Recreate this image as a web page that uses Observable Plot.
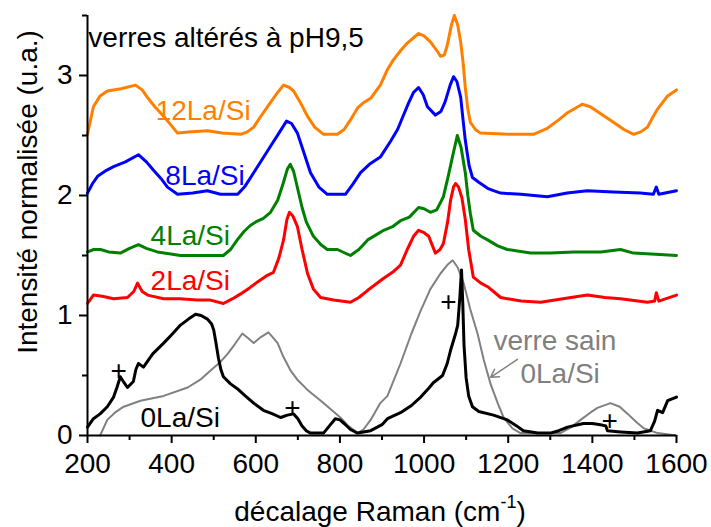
<!DOCTYPE html>
<html>
<head>
<meta charset="utf-8">
<script src="https://cdn.jsdelivr.net/npm/d3@7"></script>
<script src="https://cdn.jsdelivr.net/npm/@observablehq/plot@0.6"></script>
<style>
  html, body { margin: 0; padding: 0; background: #fff; }
  #chart svg { display: block; }
</style>
</head>
<body>
<div id="chart"></div>
<script>
// Raman spectra: [Raman shift (cm-1), normalised intensity]
const la12 = [[200,2.51],[214,2.74],[230,2.83],[247,2.87],[280,2.89],[314,2.92],[330,2.88],[342,2.82],[360,2.74],[381,2.66],[400,2.58],[414,2.52],[440,2.53],[485,2.54],[520,2.52],[564,2.51],[580,2.53],[595,2.57],[610,2.65],[628,2.74],[650,2.85],[666,2.92],[680,2.90],[690,2.87],[705,2.78],[723,2.66],[740,2.57],[761,2.51],[794,2.51],[810,2.55],[825,2.63],[842,2.73],[855,2.77],[873,2.81],[896,2.92],[913,3.05],[927,3.13],[945,3.21],[960,3.27],[987,3.35],[1000,3.33],[1015,3.28],[1030,3.21],[1039,3.16],[1048,3.17],[1055,3.25],[1065,3.42],[1072,3.50],[1080,3.42],[1087,3.28],[1093,3.10],[1098,2.90],[1104,2.72],[1110,2.61],[1122,2.55],[1134,2.52],[1200,2.51],[1260,2.51],[1293,2.56],[1320,2.63],[1341,2.69],[1376,2.76],[1395,2.74],[1412,2.70],[1450,2.61],[1475,2.55],[1498,2.51],[1515,2.53],[1531,2.57],[1545,2.66],[1555,2.72],[1579,2.83],[1600,2.88]];
const la8 = [[200,2.02],[212,2.10],[224,2.16],[245,2.21],[262,2.24],[290,2.28],[321,2.34],[340,2.28],[357,2.21],[375,2.14],[390,2.07],[414,2.01],[450,2.02],[485,2.04],[516,2.01],[557,2.01],[575,2.08],[595,2.19],[615,2.30],[635,2.41],[655,2.52],[673,2.62],[685,2.60],[699,2.52],[715,2.35],[730,2.19],[750,2.07],[770,2.01],[813,2.01],[830,2.09],[849,2.19],[870,2.26],[896,2.32],[920,2.45],[937,2.55],[950,2.66],[963,2.77],[975,2.86],[987,2.90],[998,2.84],[1008,2.74],[1027,2.67],[1040,2.70],[1050,2.78],[1062,2.92],[1070,2.99],[1078,2.95],[1087,2.82],[1093,2.62],[1098,2.46],[1107,2.25],[1115,2.15],[1130,2.11],[1151,2.06],[1165,2.04],[1182,2.02],[1230,2.01],[1293,1.99],[1340,2.02],[1388,2.04],[1450,2.03],[1514,2.02],[1545,2.01],[1552,2.07],[1558,2.01],[1600,2.04]];
const la4 = [[200,1.53],[215,1.55],[231,1.55],[250,1.53],[278,1.52],[300,1.56],[321,1.59],[340,1.56],[366,1.53],[421,1.50],[480,1.50],[523,1.50],[540,1.55],[556,1.63],[572,1.70],[587,1.75],[600,1.78],[618,1.81],[635,1.86],[652,1.96],[665,2.10],[675,2.22],[682,2.26],[690,2.20],[700,2.05],[710,1.90],[720,1.78],[737,1.66],[755,1.59],[770,1.55],[794,1.55],[825,1.50],[845,1.55],[866,1.63],[885,1.67],[904,1.71],[925,1.74],[944,1.79],[965,1.82],[987,1.90],[1000,1.89],[1015,1.86],[1030,1.88],[1046,1.99],[1058,2.17],[1068,2.33],[1079,2.50],[1088,2.40],[1098,2.19],[1104,2.00],[1110,1.85],[1117,1.71],[1135,1.66],[1151,1.63],[1175,1.58],[1198,1.55],[1253,1.52],[1300,1.52],[1355,1.53],[1420,1.53],[1467,1.55],[1498,1.52],[1550,1.51],[1600,1.50]];
const la2 = [[200,1.10],[214,1.17],[235,1.16],[262,1.14],[295,1.15],[310,1.20],[319,1.27],[330,1.20],[343,1.17],[381,1.14],[420,1.14],[461,1.13],[490,1.13],[523,1.10],[545,1.14],[564,1.18],[585,1.23],[604,1.28],[625,1.33],[642,1.36],[655,1.48],[666,1.63],[674,1.80],[680,1.86],[688,1.83],[699,1.74],[710,1.55],[723,1.35],[737,1.22],[754,1.15],[785,1.13],[825,1.11],[845,1.15],[866,1.21],[885,1.26],[904,1.31],[925,1.36],[944,1.42],[960,1.55],[975,1.66],[987,1.71],[1000,1.69],[1011,1.66],[1020,1.58],[1027,1.52],[1038,1.55],[1046,1.60],[1056,1.78],[1063,1.96],[1070,2.07],[1075,2.10],[1082,2.07],[1090,1.98],[1098,1.80],[1106,1.55],[1117,1.32],[1135,1.27],[1151,1.24],[1165,1.20],[1182,1.15],[1230,1.12],[1277,1.11],[1330,1.14],[1388,1.17],[1430,1.15],[1467,1.14],[1531,1.11],[1548,1.12],[1552,1.19],[1558,1.12],[1600,1.17]];
const la0 = [[200,0.07],[214,0.14],[230,0.18],[247,0.24],[262,0.32],[270,0.40],[278,0.49],[287,0.44],[295,0.40],[309,0.45],[315,0.55],[321,0.60],[333,0.57],[355,0.68],[381,0.77],[400,0.84],[421,0.92],[440,0.97],[457,1.01],[470,1.00],[485,0.97],[495,0.93],[500,0.88],[505,0.78],[511,0.65],[517,0.55],[523,0.49],[540,0.43],[556,0.39],[575,0.33],[595,0.27],[618,0.21],[640,0.18],[659,0.15],[675,0.17],[690,0.18],[700,0.14],[710,0.08],[720,0.04],[730,0.02],[761,0.02],[775,0.08],[789,0.14],[800,0.13],[810,0.10],[825,0.05],[842,0.02],[873,0.04],[900,0.09],[913,0.14],[944,0.19],[970,0.25],[992,0.32],[1010,0.39],[1022,0.44],[1044,0.50],[1055,0.60],[1063,0.71],[1075,0.85],[1080,0.92],[1085,1.15],[1089,1.38],[1092,1.10],[1095,0.75],[1100,0.48],[1106,0.33],[1115,0.24],[1130,0.20],[1165,0.17],[1198,0.13],[1220,0.08],[1236,0.04],[1270,0.02],[1300,0.02],[1320,0.04],[1341,0.07],[1379,0.10],[1400,0.10],[1419,0.09],[1432,0.08],[1436,0.04],[1467,0.03],[1507,0.02],[1538,0.04],[1548,0.12],[1555,0.21],[1567,0.19],[1579,0.29],[1600,0.32]];
const sain0 = [[230,0.00],[247,0.13],[265,0.19],[286,0.24],[326,0.29],[381,0.33],[438,0.40],[470,0.47],[492,0.54],[515,0.61],[533,0.68],[550,0.76],[568,0.85],[582,0.81],[595,0.77],[612,0.82],[630,0.86],[640,0.82],[652,0.77],[665,0.66],[683,0.54],[700,0.46],[723,0.38],[761,0.27],[801,0.15],[820,0.08],[842,0.02],[856,0.05],[873,0.13],[896,0.27],[913,0.33],[944,0.60],[970,0.85],[992,1.04],[1015,1.22],[1039,1.35],[1055,1.42],[1068,1.46],[1080,1.40],[1094,1.27],[1110,1.05],[1127,0.85],[1142,0.63],[1158,0.43],[1175,0.27],[1189,0.15],[1210,0.06],[1229,0.02],[1324,0.02],[1350,0.07],[1372,0.13],[1395,0.19],[1412,0.23],[1443,0.27],[1465,0.24],[1484,0.18],[1505,0.11],[1522,0.06],[1555,0.02],[1600,0.00]];

// crystalline phase markers "+"
const plusX = [274, 687, 1058, 1441];
const plusY = [0.535, 0.226, 1.111, 0.117];

const xMajor = [200, 400, 600, 800, 1000, 1200, 1400, 1600];
const xMinor = [300, 500, 700, 900, 1100, 1300, 1500];
const yMajor = [0, 1, 2, 3];
const yMinor = [0.5, 1.5, 2.5, 3.5];

const FONT = "'Liberation Sans', Arial, Helvetica, sans-serif";
const FS = 28;

const series = [
  {data: sain0, color: "#808080", w: 2},
  {data: la0, color: "#000000", w: 3},
  {data: la2, color: "#ff0000", w: 3},
  {data: la4, color: "#008000", w: 3},
  {data: la8, color: "#0000ff", w: 3},
  {data: la12, color: "#ff8000", w: 3}
];

const lbl = (text, x, y, color) => Plot.text([text], {
  x: () => x, y: () => y, text: d => d, fill: color,
  fontSize: FS, fontFamily: FONT, textAnchor: "start", lineAnchor: "bottom"
});

const chart = Plot.plot({
  width: 711,
  height: 527,
  marginLeft: 87,
  marginRight: 35,
  marginTop: 15,
  marginBottom: 92,
  style: {fontFamily: FONT, fontSize: FS + "px", background: "#fff", overflow: "visible"},
  x: {domain: [200, 1600]},
  y: {domain: [0, 3.5]},
  marks: [
    ...series.map(s => Plot.line(s.data, {x: d => d[0], y: d => d[1], stroke: s.color, strokeWidth: s.w, strokeLinejoin: "round"})),
    Plot.text(plusX.map((x, i) => [x, plusY[i]]), {x: d => d[0], y: d => d[1], text: () => "+", fontSize: FS, fontFamily: FONT, fill: "#000", lineAnchor: "middle"}),
    Plot.arrow([[1222, 0.635, 1158, 0.485]], {x1: d => d[0], y1: d => d[1], x2: d => d[2], y2: d => d[3], stroke: "#808080", strokeWidth: 1.5, headLength: 9}),
    lbl("verres altérés à pH9,5", 202, 3.24, "#000"),
    lbl("12La/Si", 362, 2.63, "#ff8000"),
    lbl("8La/Si", 385, 2.09, "#0000ff"),
    lbl("4La/Si", 350, 1.587, "#008000"),
    lbl("2La/Si", 350, 1.211, "#ff0000"),
    lbl("0La/Si", 326, 0.067, "#000"),
    lbl("verre sain", 1165, 0.71, "#808080"),
    lbl("0La/Si", 1229, 0.434, "#808080"),
    Plot.axisX({ticks: xMajor, tickSize: 8, tickPadding: 10, strokeWidth: 2, label: null, tickFormat: d => String(d), fontSize: FS, fontFamily: FONT, fill: "#000"}),
    Plot.axisX({ticks: xMinor, tickSize: 5, strokeWidth: 2, label: null, tickFormat: () => ""}),
    Plot.axisY({ticks: yMajor, tickSize: 8, tickPadding: 7, strokeWidth: 2, label: null, tickFormat: d => String(d), fontSize: FS, fontFamily: FONT, fill: "#000"}),
    Plot.axisY({ticks: yMinor, tickSize: 5, strokeWidth: 2, label: null, tickFormat: () => ""}),
    Plot.ruleY([0], {stroke: "#000", strokeWidth: 2}),
    Plot.ruleX([200], {y1: 0, y2: 3.5, stroke: "#000", strokeWidth: 2})
  ]
});

document.getElementById("chart").appendChild(chart);

const svg = d3.select(chart);
// y-axis title
svg.append("text")
  .attr("transform", "translate(37,192) rotate(-90)")
  .attr("text-anchor", "middle")
  .attr("font-family", FONT)
  .attr("font-size", FS)
  .attr("fill", "#000")
  .text("Intensité normalisée (u.a.)");
// x-axis title with superscript
const xt = svg.append("text")
  .attr("x", 380).attr("y", 521)
  .attr("text-anchor", "middle")
  .attr("font-family", FONT)
  .attr("font-size", FS)
  .attr("fill", "#000");
xt.append("tspan").text("décalage Raman (cm");
xt.append("tspan").attr("font-size", 18).attr("dy", -13).text("-1");
xt.append("tspan").attr("dy", 13).text(")");
</script>
</body>
</html>
